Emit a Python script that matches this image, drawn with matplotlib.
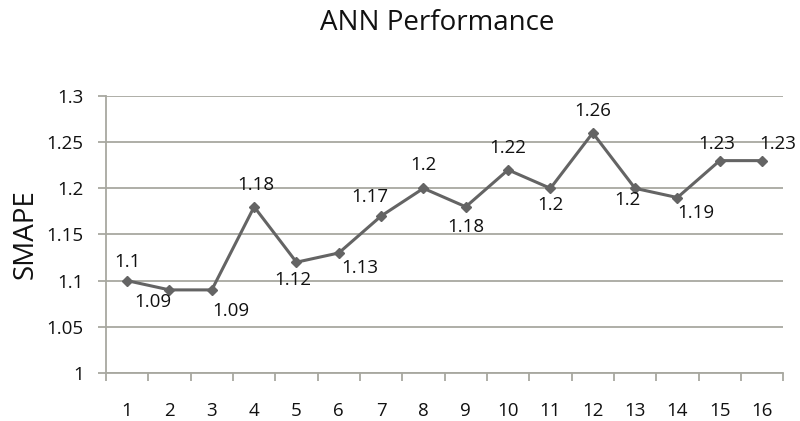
import matplotlib.pyplot as plt

plt.rcParams['font.family'] = ['Open Sans', 'DejaVu Sans']

runs = list(range(1, 17))
smape = [1.1, 1.09, 1.09, 1.18, 1.12, 1.13, 1.17, 1.2, 1.18, 1.22, 1.2, 1.26, 1.2, 1.19, 1.23, 1.23]
labels = ["1.1", "1.09", "1.09", "1.18", "1.12", "1.13", "1.17", "1.2", "1.18", "1.22", "1.2", "1.26", "1.2", "1.19", "1.23", "1.23"]
# label offsets in pixels (dx, dy)
offsets = [(0, 19), (-17, -12), (19, -21), (2, 22), (-4, -18), (21, -15), (-11, 19), (0, 23),
           (0, -20), (0, 22), (0, -17), (0, 22), (-8, -12), (18, -15), (-3, 17), (16, 17)]

fig = plt.figure(figsize=(8, 4.21), dpi=100)
ax = fig.add_axes([0.1325, 0.114, 0.8465, 0.658])

grid_col = "#a8a8a0"
text_col = "#111111"
ax.plot(runs, smape, color="#646464", linewidth=2.2, marker="D", markersize=5.5, zorder=3)

for x, y, t, (dx, dy) in zip(runs, smape, labels, offsets):
    ax.annotate(t, (x, y), xytext=(dx, dy), textcoords="offset pixels",
                ha="center", va="center", fontsize=13.5, color=text_col)

ax.set_xlim(0.5, 16.5)
ax.set_ylim(1.0, 1.3)
ax.set_yticks([1, 1.05, 1.1, 1.15, 1.2, 1.25, 1.3])
ax.set_yticklabels(["1", "1.05", "1.1", "1.15", "1.2", "1.25", "1.3"])
ax.set_xticks(runs)
ax.set_xticks([r + 0.5 for r in [0] + runs], minor=True)
ax.tick_params(axis="x", which="major", length=0, pad=21, labelsize=13.5, labelcolor=text_col)
ax.tick_params(axis="x", which="minor", length=6, direction="out", color=grid_col, width=1.3)
ax.tick_params(axis="y", length=6, direction="out", color=grid_col, width=1.3,
               labelsize=13.5, labelcolor=text_col, pad=10)

ax.grid(axis="y", color=grid_col, linewidth=1.3)
ax.set_axisbelow(True)
for s in ["top", "right"]:
    ax.spines[s].set_visible(False)
for s in ["left", "bottom"]:
    ax.spines[s].set_color(grid_col)
    ax.spines[s].set_linewidth(1.3)

ax.set_ylabel("SMAPE", fontsize=20, color=text_col, labelpad=5)
fig.text(0.546, 0.946, "ANN Performance", ha="center", va="center", fontsize=20, color=text_col)

fig.savefig("out.png", dpi=100)
